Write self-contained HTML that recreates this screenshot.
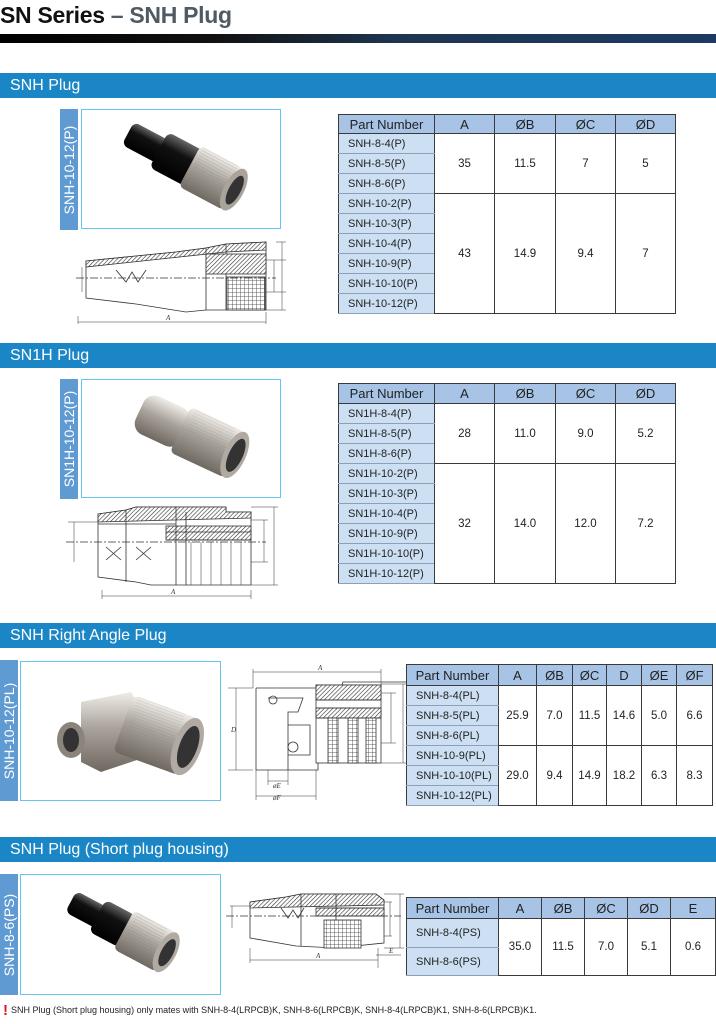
<!DOCTYPE html>
<html><head><meta charset="utf-8">
<style>
*{margin:0;padding:0;box-sizing:border-box}
body{width:716px;height:1024px;background:#fff;position:relative;overflow:hidden;font-family:"Liberation Sans",Arial,sans-serif;color:#222}
.abs{position:absolute}
.title{left:0;top:2px;font-size:23px;font-weight:bold;color:#111;letter-spacing:-0.3px}
.title span{color:#4f5a63}
.gbar{left:0;top:34px;width:716px;height:9px;background:linear-gradient(90deg,#000 0%,#111 30%,#1e3550 55%,#1c3a62 100%)}
.sec{left:0;width:716px;height:25px;background:#1a86c6;color:#fff;font-size:16px;line-height:25px;padding-left:10px}
.lab{width:18px;background:#5f9bd2;color:#fff}
.lab div{position:absolute;left:50%;top:50%;transform:translate(-50%,-50%) rotate(-90deg);white-space:nowrap;font-size:14px}
.photo{border:1.5px solid #62c6ef;background:#fff}
table{position:absolute;border-collapse:collapse;font-size:11px;table-layout:fixed}
td,th{border:1px solid #3a3a3a;text-align:center;padding:0;font-weight:normal}
th{background:#a7c4e6;font-size:13px}
td.p{background:#cde0f3;text-align:left;padding-left:9px;border-color:#3a3a3a #3a3a3a #8da0b8 #3a3a3a}
td.v{background:#fff;font-size:11.5px}
.note{left:3px;top:1002px;font-size:9px;color:#222}
.note b{color:#e0141e;font-size:15px;font-weight:bold;margin-right:3px;vertical-align:-2px}
svg text{font-family:"Liberation Serif",serif;font-style:italic;font-size:7px}
</style></head><body>
<svg width="0" height="0" style="position:absolute"><defs>
<pattern id="h" width="3" height="3" patternUnits="userSpaceOnUse" patternTransform="rotate(45)"><rect width="3" height="3" fill="#fff"/><line x1="0" y1="0" x2="0" y2="3" stroke="#333" stroke-width="1.2"/></pattern>
<pattern id="g" width="4" height="4" patternUnits="userSpaceOnUse"><rect width="4" height="4" fill="#fff"/><path d="M0 0H4M0 0V4" stroke="#333" stroke-width=".8"/></pattern>
<linearGradient id="bk" x1="0" y1="0" x2="0" y2="1"><stop offset="0" stop-color="#666"/><stop offset=".35" stop-color="#111"/><stop offset="1" stop-color="#000"/></linearGradient>
<linearGradient id="mt" x1="0" y1="0" x2="0" y2="1"><stop offset="0" stop-color="#f0ede8"/><stop offset=".45" stop-color="#a9a39b"/><stop offset="1" stop-color="#6e6860"/></linearGradient>
<pattern id="kn" width="3" height="3" patternUnits="userSpaceOnUse"><path d="M0 0H3" stroke="#777" stroke-width=".6"/></pattern>
</defs></svg>
<div class="abs title">SN Series <span>– SNH Plug</span></div>
<div class="abs gbar"></div>

<!-- Section 1 -->
<div class="abs sec" style="top:73px">SNH Plug</div>
<div class="abs lab" style="left:60px;top:109px;height:121px"><div>SNH-10-12(P)</div></div>
<div class="abs photo" style="left:81px;top:109px;width:200px;height:120px">
<svg width="197" height="117">
<g transform="rotate(28 100 60)"><rect x="35" y="40" width="40" height="26" rx="6" fill="url(#bk)"/><rect x="70" y="33" width="40" height="40" rx="6" fill="url(#bk)"/><rect x="105" y="30" width="50" height="46" rx="5" fill="url(#mt)"/><rect x="108" y="30" width="40" height="46" fill="url(#kn)" opacity=".6"/><ellipse cx="155" cy="53" rx="10" ry="23" fill="#a9a39b"/><ellipse cx="156" cy="53" rx="6" ry="16" fill="#333"/></g></svg></div>
<svg class="abs" style="left:76px;top:232px" width="210" height="92" fill="none" stroke="#333" stroke-width="0.8">
<path d="M10 29 L60 24 L100 20 L130 16 L150 12 L190 10 L190 78 L130 78 L110 80 L60 72 L10 66 Z" fill="#fff"/>
<path d="M10 29 L60 24 L100 20 L130 16 L150 12 L190 10 L190 18 L150 20 L10 35 Z" fill="url(#h)"/>
<path d="M130 16 L130 78 M150 12 L150 78"/>
<rect x="130" y="22" width="60" height="20" fill="url(#h)"/>
<rect x="151" y="45" width="38" height="33" fill="url(#g)"/>
<path d="M40 38 L50 50 L56 40 L62 50 L70 38" />
<path d="M0 46 H200" stroke-dasharray="8 2 2 2"/>
<path d="M200 10 H215 M190 78 H215 M190 28 h20 M190 60 h20" stroke-width=".5"/>
<path d="M206 10 V78 M198 28 V60 M6 35 V60 M2 90 H190 M2 84 V92 M190 80 V92" stroke-width=".5"/>
<text x="90" y="88" stroke="none" fill="#333">A</text>
</svg>
<table style="left:338px;top:114px;width:337px"><colgroup><col style="width:96px"><col style="width:60px"><col style="width:61px"><col style="width:60px"><col style="width:60px"></colgroup>
<tr style="height:19px"><th>Part Number</th><th>A</th><th>ØB</th><th>ØC</th><th>ØD</th></tr>
<tr style="height:20px"><td class="p">SNH-8-4(P)</td><td class="v" rowspan="3">35</td><td class="v" rowspan="3">11.5</td><td class="v" rowspan="3">7</td><td class="v" rowspan="3">5</td></tr>
<tr style="height:20px"><td class="p">SNH-8-5(P)</td></tr>
<tr style="height:20px"><td class="p">SNH-8-6(P)</td></tr>
<tr style="height:20px"><td class="p">SNH-10-2(P)</td><td class="v" rowspan="6">43</td><td class="v" rowspan="6">14.9</td><td class="v" rowspan="6">9.4</td><td class="v" rowspan="6">7</td></tr>
<tr style="height:20px"><td class="p">SNH-10-3(P)</td></tr>
<tr style="height:20px"><td class="p">SNH-10-4(P)</td></tr>
<tr style="height:20px"><td class="p">SNH-10-9(P)</td></tr>
<tr style="height:20px"><td class="p">SNH-10-10(P)</td></tr>
<tr style="height:20px"><td class="p">SNH-10-12(P)</td></tr>
</table>

<!-- Section 2 -->
<div class="abs sec" style="top:343px">SN1H Plug</div>
<div class="abs lab" style="left:60px;top:379px;height:120px"><div>SN1H-10-12(P)</div></div>
<div class="abs photo" style="left:81px;top:379px;width:200px;height:119px">
<svg width="197" height="116"><g transform="rotate(25 100 58)"><rect x="50" y="30" width="50" height="42" rx="12" fill="url(#mt)"/><rect x="95" y="26" width="60" height="50" rx="5" fill="url(#mt)"/><rect x="100" y="26" width="45" height="50" fill="url(#kn)" opacity=".4"/><ellipse cx="155" cy="51" rx="11" ry="25" fill="#b0aaa2"/><ellipse cx="156" cy="51" rx="7" ry="18" fill="#333"/></g></svg></div>
<svg class="abs" style="left:66px;top:502px" width="215" height="100" fill="none" stroke="#333" stroke-width="0.8">
<path d="M32 12 L60 8 L70 5 L160 5 L160 10 L185 10 L185 83 L85 83 L70 80 L32 75 Z" fill="#fff"/>
<path d="M32 12 L60 8 L70 5 L160 5 L160 10 L185 10 L185 16 L32 20 Z" fill="url(#h)"/>
<rect x="100" y="24" width="85" height="14" fill="url(#h)"/>
<path d="M60 8 V80 M110 5 V83 M120 10 V83 M32 22 H110 M100 30 H185 M100 38 H185"/>
<path d="M125 40 V83 M135 40 V83 M145 40 V83 M155 40 V83 M165 40 V83 M175 40 V83" stroke-width=".5"/>
<path d="M40 45 L55 58 M55 45 L40 58 M70 45 L85 58 M85 45 L70 58"/>
<path d="M0 40 H200" stroke-dasharray="8 2 2 2"/>
<path d="M185 5 H212 M185 83 H212 M208 5 V83 M185 18 H202 M185 60 H202 M198 18 V60 M2 20 H32 M8 20 V60 M36 88 V97 M185 88 V97 M36 94 H185" stroke-width=".5"/>
<text x="105" y="92" stroke="none" fill="#333">A</text></svg>
<table style="left:338px;top:383px;width:337px"><colgroup><col style="width:96px"><col style="width:60px"><col style="width:61px"><col style="width:60px"><col style="width:60px"></colgroup>
<tr style="height:20px"><th>Part Number</th><th>A</th><th>ØB</th><th>ØC</th><th>ØD</th></tr>
<tr style="height:20px"><td class="p">SN1H-8-4(P)</td><td class="v" rowspan="3">28</td><td class="v" rowspan="3">11.0</td><td class="v" rowspan="3">9.0</td><td class="v" rowspan="3">5.2</td></tr>
<tr style="height:20px"><td class="p">SN1H-8-5(P)</td></tr>
<tr style="height:20px"><td class="p">SN1H-8-6(P)</td></tr>
<tr style="height:20px"><td class="p">SN1H-10-2(P)</td><td class="v" rowspan="6">32</td><td class="v" rowspan="6">14.0</td><td class="v" rowspan="6">12.0</td><td class="v" rowspan="6">7.2</td></tr>
<tr style="height:20px"><td class="p">SN1H-10-3(P)</td></tr>
<tr style="height:20px"><td class="p">SN1H-10-4(P)</td></tr>
<tr style="height:20px"><td class="p">SN1H-10-9(P)</td></tr>
<tr style="height:20px"><td class="p">SN1H-10-10(P)</td></tr>
<tr style="height:20px"><td class="p">SN1H-10-12(P)</td></tr>
</table>

<!-- Section 3 -->
<div class="abs sec" style="top:623px">SNH Right Angle Plug</div>
<div class="abs lab" style="left:0;top:660px;height:141px"><div>SNH-10-12(PL)</div></div>
<div class="abs photo" style="left:20px;top:661px;width:201px;height:140px">
<svg width="198" height="137"><path d="M60 40 L110 30 L125 55 L125 95 L80 110 L60 100 Z" fill="url(#mt)"/><ellipse cx="50" cy="78" rx="14" ry="18" fill="#8a847c"/><ellipse cx="50" cy="78" rx="8" ry="12" fill="#333"/><g transform="rotate(20 140 75)"><rect x="100" y="45" width="70" height="60" rx="6" fill="url(#mt)"/><rect x="105" y="45" width="50" height="60" fill="url(#kn)" opacity=".45"/><ellipse cx="168" cy="75" rx="14" ry="30" fill="#b0aaa2"/><ellipse cx="169" cy="75" rx="9" ry="22" fill="#333"/></g></svg></div>
<svg class="abs" style="left:228px;top:660px" width="178" height="150" fill="none" stroke="#333" stroke-width="0.8">
<path d="M28 28 H90 L95 36 H110 L115 22 H200 M28 28 V110 H90 V80" fill="#fff"/>
<path d="M40 38 H75 L70 52 H60 V110 M60 65 H82 V95 H60"/>
<rect x="88" y="25" width="65" height="78" fill="#fff"/>
<rect x="88" y="25" width="65" height="15" fill="url(#h)"/>
<rect x="88" y="48" width="65" height="10" fill="url(#h)"/>
<path d="M88 40 H153 M88 48 H153 M88 58 H153"/>
<rect x="100" y="58" width="10" height="45" fill="url(#g)"/><rect x="120" y="58" width="10" height="45" fill="url(#g)"/><rect x="138" y="58" width="10" height="45" fill="url(#g)"/>
<circle cx="45" cy="40" r="4"/><circle cx="65" cy="87" r="5"/>
<path d="M25 9 V28 M153 9 V28 M25 12 H153 M0 28 H25 M0 110 H25 M8 28 V110 M153 33 H168 M153 83 H168 M163 33 V83 M153 24 H178 M153 103 H178 M175 24 V103 M40 110 V125 M60 110 V125 M40 121 H60 M28 110 V140 M88 110 V140 M28 136 H88" stroke-width=".5"/>
<text x="90" y="10" stroke="none" fill="#333">A</text><text x="3" y="72" stroke="none" fill="#333">D</text><text x="45" y="128" stroke="none" fill="#333">øE</text><text x="45" y="140" stroke="none" fill="#333">øF</text></svg>
<table style="left:406px;top:664px;width:306px"><colgroup><col style="width:92px"><col style="width:38px"><col style="width:36px"><col style="width:34px"><col style="width:35px"><col style="width:35px"><col style="width:36px"></colgroup>
<tr style="height:21px"><th>Part Number</th><th>A</th><th>ØB</th><th>ØC</th><th>D</th><th>ØE</th><th>ØF</th></tr>
<tr style="height:20px"><td class="p">SNH-8-4(PL)</td><td class="v" rowspan="3">25.9</td><td class="v" rowspan="3">7.0</td><td class="v" rowspan="3">11.5</td><td class="v" rowspan="3">14.6</td><td class="v" rowspan="3">5.0</td><td class="v" rowspan="3">6.6</td></tr>
<tr style="height:20px"><td class="p">SNH-8-5(PL)</td></tr>
<tr style="height:20px"><td class="p">SNH-8-6(PL)</td></tr>
<tr style="height:20px"><td class="p">SNH-10-9(PL)</td><td class="v" rowspan="3">29.0</td><td class="v" rowspan="3">9.4</td><td class="v" rowspan="3">14.9</td><td class="v" rowspan="3">18.2</td><td class="v" rowspan="3">6.3</td><td class="v" rowspan="3">8.3</td></tr>
<tr style="height:20px"><td class="p">SNH-10-10(PL)</td></tr>
<tr style="height:20px"><td class="p">SNH-10-12(PL)</td></tr>
</table>

<!-- Section 4 -->
<div class="abs sec" style="top:837px">SNH Plug (Short plug housing)</div>
<div class="abs lab" style="left:0;top:874px;height:121px"><div>SNH-8-6(PS)</div></div>
<div class="abs photo" style="left:20px;top:874px;width:201px;height:121px">
<svg width="198" height="118"><g transform="rotate(28 100 60)"><rect x="40" y="42" width="36" height="24" rx="6" fill="url(#bk)"/><rect x="70" y="36" width="34" height="36" rx="6" fill="url(#bk)"/><rect x="100" y="32" width="48" height="44" rx="5" fill="url(#mt)"/><rect x="104" y="32" width="34" height="44" fill="url(#kn)" opacity=".6"/><ellipse cx="148" cy="54" rx="10" ry="22" fill="#b0aaa2"/><ellipse cx="149" cy="54" rx="6" ry="15" fill="#333"/></g></svg></div>
<svg class="abs" style="left:226px;top:888px" width="180" height="100" fill="none" stroke="#333" stroke-width="0.8">
<path d="M24 14 L60 9 L75 6 L150 6 L158 12 L158 55 L110 60 L70 58 L24 50 Z" fill="#fff"/>
<path d="M24 14 L60 9 L75 6 L150 6 L158 12 L158 17 L24 20 Z" fill="url(#h)"/>
<rect x="90" y="20" width="68" height="8" fill="url(#h)"/>
<path d="M75 6 V58 M110 6 V60 M90 20 H158 M90 28 H158"/>
<rect x="98" y="32" width="37" height="28" fill="url(#g)"/>
<path d="M55 20 L62 30 L67 22 L72 30 L78 20"/>
<path d="M0 28 H175" stroke-dasharray="8 2 2 2"/>
<path d="M158 6 H178 M158 60 H178 M174 6 V60 M158 14 H166 M158 48 H166 M164 14 V48 M4 18 H24 M6 18 V40 M24 60 V75 M152 60 V80 M24 72 H152 M150 67 H175" stroke-width=".5"/>
<text x="90" y="70" stroke="none" fill="#333">A</text><text x="163" y="65" stroke="none" fill="#333">E</text></svg>
<table style="left:406px;top:897px;width:309px"><colgroup><col style="width:92px"><col style="width:43px"><col style="width:43px"><col style="width:43px"><col style="width:43px"><col style="width:45px"></colgroup>
<tr style="height:21px"><th>Part Number</th><th>A</th><th>ØB</th><th>ØC</th><th>ØD</th><th>E</th></tr>
<tr style="height:29px"><td class="p">SNH-8-4(PS)</td><td class="v" rowspan="2">35.0</td><td class="v" rowspan="2">11.5</td><td class="v" rowspan="2">7.0</td><td class="v" rowspan="2">5.1</td><td class="v" rowspan="2">0.6</td></tr>
<tr style="height:28px"><td class="p">SNH-8-6(PS)</td></tr>
</table>

<div class="abs note"><b>!</b>SNH Plug (Short plug housing) only mates with SNH-8-4(LRPCB)K, SNH-8-6(LRPCB)K, SNH-8-4(LRPCB)K1, SNH-8-6(LRPCB)K1.</div>
</body></html>
